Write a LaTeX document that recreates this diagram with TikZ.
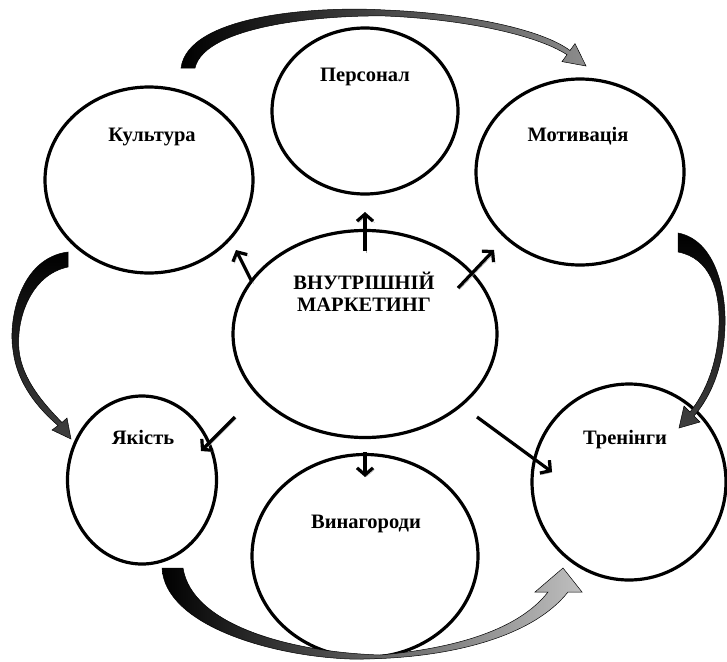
\documentclass[tikz,border=0pt]{standalone}
\usepackage{fontspec}
\setmainfont{Liberation Serif}
\usetikzlibrary{shapes.geometric,arrows.meta}
\begin{document}
\begin{tikzpicture}[x=1pt,y=-1pt,
  oval/.style={draw=black,line width=3.2pt,ellipse,inner sep=0pt},
  lbl/.style={font=\bfseries\fontsize{20.5}{24}\selectfont,inner sep=0pt,anchor=base},
  ptr/.style={line width=3.2pt,-{Straight Barb[length=7pt,width=16pt,line width=3.2pt]},
    preaction={draw=black!35,transform canvas={shift={(1.6pt,-1.6pt)}}}},
  blk/.style={draw=black,line width=0.5pt}]
\useasboundingbox (0,0) rectangle (727,661);

% ellipses
\node[oval,minimum width=186pt,minimum height=166pt] (pers) at (365,111) {};
\node[oval,minimum width=208pt,minimum height=186pt] (kult) at (149,180) {};
\node[oval,minimum width=208pt,minimum height=186pt] (moti) at (580,172) {};
\node[oval,minimum width=264pt,minimum height=207pt] (cent) at (365,334) {};
\node[oval,minimum width=149pt,minimum height=168pt] (yak) at (142,480) {};
\node[oval,minimum width=226pt,minimum height=203pt] (vyn) at (365,556) {};
\node[oval,minimum width=194pt,minimum height=196pt] (tren) at (629,482) {};

% labels
\node[lbl] (tpers) at (365,81) {Персонал};
\node[lbl] (tkult) at (152,141.5) {Культура};
\node[lbl] (tmoti) at (578,141) {Мотивація};
\node[lbl] (tc1) at (364,289) {ВНУТРІШНІЙ};
\node[lbl] (tc2) at (364,311.5) {МАРКЕТИНГ};
\node[lbl] (tyak) at (143,444) {Якість};
\node[lbl] (tvyn) at (366,528) {Винагороди};
\node[lbl] (ttren) at (625,444) {Тренінги};

% straight arrows
\coordinate (u1) at (365,251); \coordinate (u2) at (365,212);
\coordinate (l1) at (252,282); \coordinate (l2) at (236,250);
\coordinate (r1) at (458,288); \coordinate (r2) at (494,250);
\coordinate (dl1) at (235,417); \coordinate (dl2) at (201,451);
\coordinate (d1) at (365,452); \coordinate (d2) at (365,477);
\coordinate (dr1) at (477,417); \coordinate (dr2) at (552,472);
\draw[ptr] (u1) -- (u2);
\draw[ptr] (l1) -- (l2);
\draw[ptr] (r1) -- (r2);
\draw[ptr] (dl1) -- (dl2);
\draw[ptr] (d1) -- (d2);
\draw[ptr] (dr1) -- (dr2);

% curved block arrows
% top: Kultura -> Motyvatsiia
\shade[blk,left color=black,right color=black!45]
  (181,68) .. controls (188,14) and (320,6) .. (385,10)
  .. controls (460,13) and (540,28) .. (570,50.5)
  -- (575,43.6) -- (586,66) -- (562,61.6) -- (567,54.7)
  .. controls (535,34) and (460,19) .. (385,16)
  .. controls (325,15) and (205,25) .. (195,68) -- cycle;
% left: Kultura -> Yakist
\shade[blk,top color=black,bottom color=black!75]
  (68,252) .. controls (20,258) and (8,320) .. (13,350)
  .. controls (17,385) and (40,410) .. (58,425.5)
  -- (52,430) -- (71,439) -- (67,418) -- (62,422.5)
  .. controls (45,405) and (22,380) .. (19,350)
  .. controls (16,320) and (30,275) .. (68,267) -- cycle;
% right: Motyvatsiia -> Treninhy
\shade[blk,top color=black,bottom color=black!75]
  (678,233) .. controls (715,240) and (726,290) .. (725,325)
  .. controls (724,365) and (712,395) .. (694,416)
  -- (700,422) -- (679,428) -- (684,406) -- (690,412)
  .. controls (706,392) and (718,362) .. (719,325)
  .. controls (720,290) and (710,258) .. (678,252) -- cycle;
% bottom: Yakist -> Treninhy
\shade[blk,left color=black,right color=black!25]
  (162,568) .. controls (165,625) and (270,656) .. (350,659)
  .. controls (440,660) and (530,640) .. (568,592)
  -- (582,592) -- (563,568) -- (535,592) -- (548,592)
  .. controls (520,628) and (460,648) .. (380,655)
  .. controls (290,652) and (192,625) .. (183,568) -- cycle;
\end{tikzpicture}
\end{document}
